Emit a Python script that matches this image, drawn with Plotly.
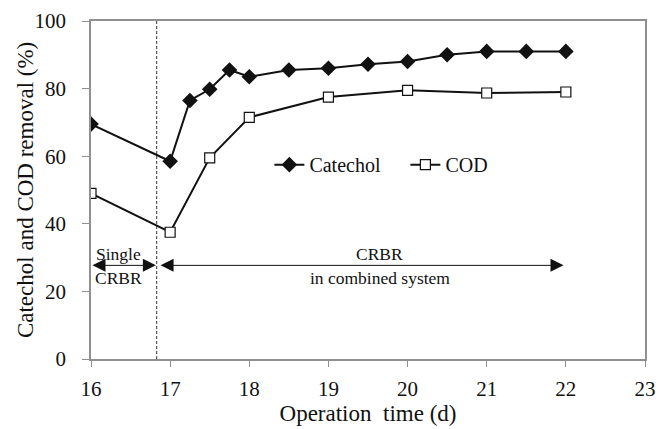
import plotly.graph_objects as go

cat_x = [16, 17, 17.25, 17.5, 17.75, 18, 18.5, 19, 19.5, 20, 20.5, 21, 21.5, 22]
cat_y = [69.5, 58.5, 76.5, 79.8, 85.5, 83.5, 85.5, 86, 87.2, 88, 90, 91, 91, 91]
cod_x = [16, 17, 17.5, 18, 19, 20, 21, 22]
cod_y = [49, 37.5, 59.5, 71.5, 77.5, 79.5, 78.7, 79]
x_ticks = [16, 17, 18, 19, 20, 21, 22, 23]
y_ticks = [0, 20, 40, 60, 80, 100]
switch_day = 16.83
end_day = 21.97
arrow_level = 27.7

font = "Liberation Serif"

fig = go.Figure()
fig.add_trace(go.Scatter(x=cat_x, y=cat_y, name="Catechol", mode="lines+markers",
                         line=dict(color="#111111", width=2),
                         marker=dict(symbol="diamond", size=12, color="#111111")))
fig.add_trace(go.Scatter(x=cod_x, y=cod_y, name="COD", mode="lines+markers",
                         line=dict(color="#111111", width=2),
                         marker=dict(symbol="square", size=10, color="white",
                                     line=dict(color="#111111", width=1.2))))

fig.add_shape(type="line", x0=switch_day, x1=switch_day, y0=0, y1=100,
              xref="x", yref="y", line=dict(color="#333333", width=1, dash="3px,2px"))

arrow_kw = dict(xref="x", yref="y", axref="x", ayref="y", text="", showarrow=True,
                arrowhead=2, arrowside="end+start", arrowsize=2.6, arrowwidth=1,
                arrowcolor="#111111")
fig.add_annotation(x=switch_day - 0.01, y=arrow_level, ax=16.0, ay=arrow_level, **arrow_kw)
fig.add_annotation(x=end_day, y=arrow_level, ax=switch_day + 0.03, ay=arrow_level, **arrow_kw)

txt = dict(showarrow=False, xref="x", yref="y", font=dict(family=font, size=17.5, color="#111111"))
fig.add_annotation(x=16.35, y=arrow_level + 3.3, text="Single", **txt)
fig.add_annotation(x=16.35, y=arrow_level - 3.7, text="CRBR", **txt)
fig.add_annotation(x=19.65, y=arrow_level + 3.3, text="CRBR", **txt)
fig.add_annotation(x=19.65, y=arrow_level - 3.7, text="in combined system", **txt)

fig.add_annotation(x=-0.119, y=0.5, xref="paper", yref="paper", showarrow=False,
                   text="Catechol and COD removal (%)", textangle=-90,
                   xanchor="center", yanchor="middle",
                   font=dict(family=font, size=23, color="#111111"))

axis_common = dict(showline=True, linecolor="#909090", linewidth=1.5, mirror=True,
                   ticks="outside", tickcolor="#909090", showgrid=False, automargin=False,
                   zeroline=False, tickfont=dict(family=font, size=21, color="#111111"))
fig.update_xaxes(range=[16, 23], tickvals=x_ticks, ticklen=6, ticklabelstandoff=4,
                 title=dict(text="Operation\u00a0\u00a0time (d)",
                            font=dict(family=font, size=23, color="#111111"), standoff=4),
                 **axis_common)
fig.update_yaxes(range=[0, 100], tickvals=y_ticks, ticklen=7, ticklabelstandoff=12,
                 **axis_common)

fig.update_layout(width=659, height=429, margin=dict(l=91, r=14, t=21, b=70),
                  plot_bgcolor="white", paper_bgcolor="white",
                  legend=dict(orientation="h", x=0.322, y=0.575, xanchor="left", yanchor="middle",
                              bgcolor="rgba(0,0,0,0)", font=dict(family=font, size=20, color="#111111"),
                              itemwidth=30, entrywidth=91),
                  showlegend=True)

fig.write_html("out.html")
